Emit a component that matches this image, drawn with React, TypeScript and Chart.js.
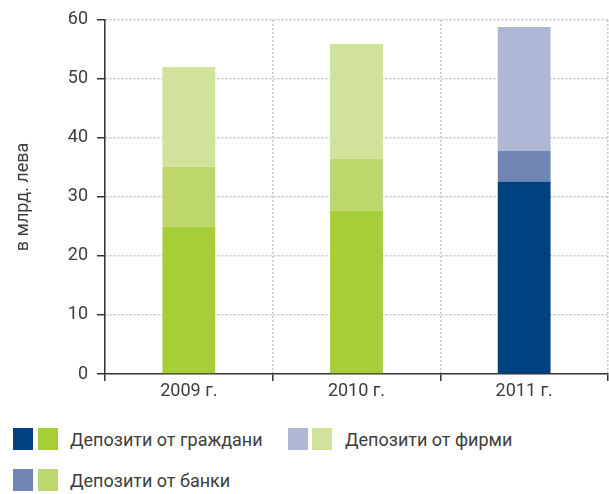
import React, { useEffect, useRef } from "react";
import { Chart, registerables } from "chart.js";

Chart.register(...registerables);

const categories = ["2009 г.", "2010 г.", "2011 г."];
const citizens = [25.0, 27.7, 32.6];
const banks = [10.1, 8.8, 5.2];
const firms = [16.9, 19.4, 21.0];
const yTicks = [0, 10, 20, 30, 40, 50, 60];

const citizensColors = ["#a6ce39", "#a6ce39", "#00427f"];
const banksColors = ["#bed76d", "#bed76d", "#7085b4"];
const firmsColors = ["#d1e39a", "#d1e39a", "#aeb8d5"];

const FONT = "Roboto, sans-serif";
const TEXT = "#3d3d3d";

export default function App() {
  const ref = useRef<HTMLCanvasElement | null>(null);
  useEffect(() => {
    const canvas = ref.current!;
    const chart = new Chart(canvas, {
      type: "bar",
      data: {
        labels: categories,
        datasets: [
          { label: "Депозити от граждани", data: citizens, backgroundColor: citizensColors },
          { label: "Депозити от банки", data: banks, backgroundColor: banksColors },
          { label: "Депозити от фирми", data: firms, backgroundColor: firmsColors },
        ],
      },
      options: {
        responsive: false,
        animation: false,
        devicePixelRatio: 1,
        layout: { padding: { top: 19, right: 1, left: 0, bottom: 0 } },
        plugins: { legend: { display: false }, tooltip: { enabled: false } },
        datasets: { bar: { categoryPercentage: 1, barPercentage: 0.315 } } as any,
        scales: {
          x: {
            stacked: true,
            grid: {
              offset: true,
              color: "#c4c4c4",
              lineWidth: 1.5,
              tickColor: "#333",
              tickLength: 7,
              tickBorderDash: [],
              tickWidth: 1.5,
            } as any,
            border: { color: "#333", width: 1.5, dash: [2, 2] } as any,
            ticks: { color: TEXT, font: { family: FONT, size: 18 }, padding: 0 },
            afterFit: (s: any) => { s.height = 36; },
          },
          y: {
            stacked: true,
            min: 0,
            max: 60,
            afterBuildTicks: (s: any) => { s.ticks = yTicks.map((v) => ({ value: v })); },
            grid: {
              color: (c: any) => (c.tick && c.tick.value === 0 ? "rgba(0,0,0,0)" : "#c4c4c4"),
              lineWidth: 1.5,
              tickColor: "#333",
              tickLength: 8,
              tickBorderDash: [],
              tickWidth: 1.5,
            } as any,
            border: { color: "#333", width: 1.5, dash: [2, 2] } as any,
            ticks: { color: TEXT, font: { family: FONT, size: 18 }, padding: 9 },
            title: {
              display: true,
              text: "в млрд. лева",
              color: TEXT,
              font: { family: FONT, size: 18 },
              padding: { top: 13, bottom: 0 },
            },
            afterFit: (s: any) => { s.width = 105; },
          },
        },
      },
    });
    return () => chart.destroy();
  }, []);

  const sq = (color: string, left: number, top: number) => (
    <div style={{ position: "absolute", left, top, width: 20, height: 22, background: color }} />
  );
  const label = (text: string, left: number, top: number) => (
    <div style={{ position: "absolute", left, top, font: `18px ${FONT}`, color: TEXT, lineHeight: "22px", whiteSpace: "nowrap" }}>{text}</div>
  );

  return (
    <div lang="bg" style={{ position: "absolute", left: 0, top: 0, width: 609, height: 494, background: "#fff" }}>
      <canvas ref={ref} width={609} height={410} style={{ position: "absolute", left: 0, top: 0 }} />
      {sq("#00427f", 13, 428)}
      {sq("#a6ce39", 38, 428)}
      {label("Депозити от граждани", 70, 429)}
      {sq("#aeb8d5", 288, 428)}
      {sq("#d1e39a", 312, 428)}
      {label("Депозити от фирми", 345, 429)}
      {sq("#7085b4", 13, 469)}
      {sq("#bed76d", 38, 469)}
      {label("Депозити от банки", 70, 470)}
    </div>
  );
}
